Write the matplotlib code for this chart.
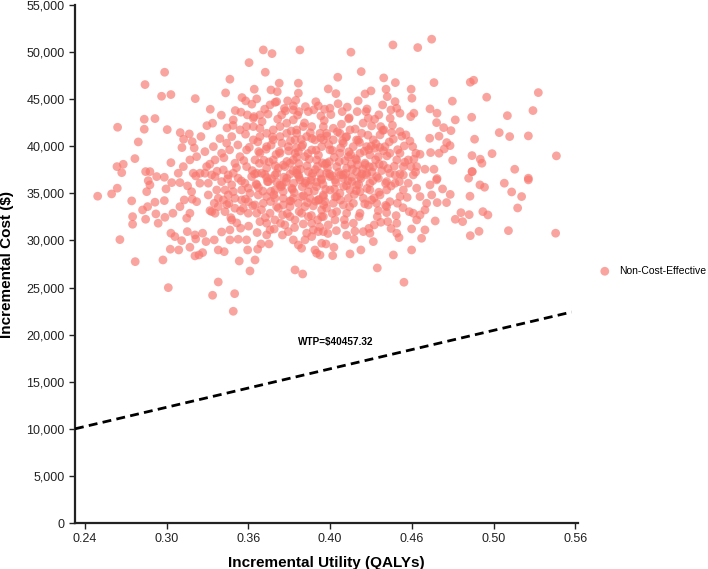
import numpy as np
import matplotlib
matplotlib.use("Agg")
from matplotlib import pyplot as plt
from matplotlib.ticker import FuncFormatter

plt.rcParams['font.family'] = ['Liberation Sans', 'DejaVu Sans']

# Sparse upper-left points
util_a = [0.2613, 0.2609, 0.265, 0.264, 0.2726, 0.2748, 0.2787, 0.2787, 0.2857, 0.2792,
          0.292, 0.29, 0.2961, 0.2937, 0.2961, 0.3022, 0.3044, 0.3033, 0.3081, 0.312,
          0.31, 0.3113, 0.3157, 0.3196, 0.3218, 0.329, 0.3233, 0.3318, 0.3346, 0.3327,
          0.3368, 0.3381, 0.3471, 0.3425, 0.3449, 0.3521, 0.3505, 0.3564, 0.3621, 0.3577,
          0.3614, 0.3668, 0.3655, 0.3651, 0.3608, 0.3542, 0.3499, 0.346, 0.3684, 0.3723,
          0.376, 0.3793, 0.3793, 0.3803]
cost_a = [42020, 37840, 38090, 37200, 38690, 40460, 41810, 42870, 42940, 46550,
          47860, 45310, 45490, 41770, 38260, 41450, 40750, 39860, 41310, 45060,
          40490, 39820, 41030, 42190, 43930, 43300, 42450, 45670, 47120, 41950,
          42800, 43790, 48880, 45170, 44820, 45030, 46060, 50230, 49840, 47860,
          45980, 46700, 45800, 44740, 44390, 43330, 42980, 43330, 43330, 44820,
          44290, 46700, 45640, 50230]

# Sparse upper-right points
util_b = [0.4136, 0.441, 0.4572, 0.4663, 0.4203, 0.405, 0.3988, 0.4038, 0.435, 0.4426,
          0.4365, 0.4228, 0.4267, 0.4373, 0.4529, 0.4534, 0.4678, 0.4915, 0.4937, 0.5359,
          0.5022, 0.4798, 0.4424, 0.4343, 0.4397, 0.4435, 0.4456, 0.4547, 0.4526, 0.4652,
          0.4698, 0.4695, 0.4741, 0.4789, 0.4817, 0.4924, 0.5157, 0.5324, 0.5104, 0.5172,
          0.5294, 0.4943, 0.465, 0.4711, 0.4761, 0.4783, 0.4745, 0.4656, 0.4711, 0.48,
          0.4926, 0.498, 0.4991, 0.5057, 0.4928, 0.5205, 0.5294, 0.5477]
cost_b = [49990, 50760, 50480, 51370, 47930, 47330, 46090, 45590, 47260, 46760,
          46060, 45560, 45880, 45270, 46060, 45100, 46760, 46800, 47010, 45700,
          45210, 44790, 44740, 44390, 43860, 44040, 43510, 43510, 43150, 43970,
          43510, 42510, 41980, 41660, 42800, 43080, 43250, 43790, 41450, 41030,
          41100, 40750, 40850, 41070, 40390, 40070, 39720, 39330, 39260, 38520,
          39010, 38630, 38200, 39220, 37310, 37560, 36610, 38980]

# Dense core, upper right part
util_c = [0.376, 0.3797, 0.3858, 0.3923, 0.394, 0.3999, 0.4079, 0.4121, 0.4177, 0.4234,
          0.4249, 0.4271, 0.433, 0.4352, 0.4402, 0.4456, 0.4495, 0.4484, 0.4539, 0.456,
          0.4587, 0.4547, 0.451, 0.4565, 0.4528, 0.4619, 0.4678, 0.4698, 0.4413, 0.4358,
          0.439, 0.4456, 0.4435, 0.4478, 0.439, 0.4456, 0.4326, 0.4282, 0.4293, 0.4238,
          0.4206, 0.4173, 0.413, 0.4108, 0.4064, 0.4021, 0.3977, 0.3934, 0.3956, 0.388,
          0.3825, 0.3782, 0.3847, 0.3901, 0.3956, 0.4021, 0.4086, 0.4151, 0.4195, 0.426,
          0.4315, 0.4347, 0.4282, 0.4228, 0.4173, 0.4119, 0.4064, 0.3999, 0.3945, 0.388,
          0.3814, 0.3771, 0.3836, 0.3912, 0.3977, 0.4043, 0.4108, 0.4173, 0.4238, 0.4304,
          0.3782, 0.3858, 0.3934, 0.3999, 0.4086, 0.3738]
cost_c = [43860, 43680, 43680, 44290, 43220, 44040, 43680, 42910, 43680, 43680,
          42980, 42160, 42090, 41740, 41450, 41560, 41210, 40040, 39960, 39260,
          39150, 38630, 38550, 37840, 37840, 37560, 37560, 36570, 40750, 39960,
          39260, 39260, 38550, 37840, 37130, 37060, 41210, 40680, 39790, 39960,
          41380, 40680, 41740, 41030, 41380, 41910, 41380, 41380, 42090, 42090,
          42090, 41380, 41030, 40680, 40680, 40680, 40330, 39960, 39260, 39080,
          38900, 38020, 37840, 38200, 38550, 38900, 39260, 39610, 39960, 39610,
          39960, 39260, 38900, 38550, 38200, 37840, 37670, 37310, 36960, 36780,
          37490, 37310, 37130, 36780, 36610, 38200]

# Lower left points
util_d1 = [0.2483, 0.2574, 0.2611, 0.2705, 0.2711, 0.2711, 0.2628, 0.2728, 0.2909, 0.2944,
           0.2776, 0.2796, 0.2809, 0.2857, 0.2863, 0.2878, 0.2918, 0.2922, 0.2929, 0.2803,
           0.2813, 0.2824, 0.2796, 0.2918, 0.2966, 0.2974, 0.2961, 0.2987, 0.2957, 0.3012,
           0.3031, 0.302, 0.302, 0.3048, 0.3064, 0.3085, 0.3068, 0.3085, 0.307, 0.3096,
           0.31, 0.3129, 0.3118, 0.3123, 0.3118, 0.3144, 0.3168, 0.3168, 0.319, 0.3123,
           0.315, 0.3183, 0.3205, 0.3227, 0.3244, 0.3249, 0.3244, 0.327, 0.3309, 0.327,
           0.3233, 0.3377, 0.3368, 0.3292, 0.3346, 0.3346, 0.34, 0.3407, 0.3455, 0.3462,
           0.3477, 0.351, 0.3527, 0.3549, 0.3586, 0.3601, 0.3608, 0.3416, 0.3358, 0.3314,
           0.327, 0.3216, 0.3303, 0.334]
cost_d1 = [34700, 34940, 35550, 34200, 32530, 31720, 30090, 27750, 27930, 24990,
           33240, 32250, 33590, 34060, 32820, 31830, 34230, 32460, 35470, 35180,
           36350, 35900, 37310, 36710, 36140, 32890, 30770, 30410, 29070, 28990,
           29980, 36140, 33590, 34300, 32360, 32890, 30940, 29280, 35790, 35180,
           34380, 34120, 30590, 30160, 28360, 28460, 30770, 28710, 29880, 36850,
           36080, 37140, 34830, 33060, 33950, 32890, 30060, 28990, 28810, 25590,
           24180, 24350, 22480, 30900, 31120, 30060, 30130, 27820, 30060, 28990,
           26760, 27930, 29070, 29630, 30590, 29630, 31120, 31300, 32180, 33060,
           33590, 33170, 34300, 33950]

util_d2 = [0.3379, 0.3433, 0.3466, 0.3521, 0.3542, 0.3586, 0.364, 0.3677, 0.3727, 0.376,
           0.3793, 0.3814, 0.3771, 0.3821, 0.3836, 0.388, 0.3901, 0.3912, 0.3945, 0.3956,
           0.3923, 0.389, 0.3847, 0.3705, 0.388, 0.3919, 0.3858, 0.3814, 0.3771, 0.3738,
           0.369, 0.3608, 0.3651, 0.3694, 0.3738, 0.3793, 0.3836, 0.389, 0.3945, 0.3945,
           0.3564, 0.351, 0.3466, 0.3423, 0.3379, 0.3335, 0.327, 0.326, 0.3314, 0.3368,
           0.3423, 0.3477, 0.3531, 0.3586, 0.364, 0.3694, 0.376, 0.3814, 0.3869, 0.3923,
           0.3956, 0.3205, 0.3249, 0.3292, 0.3335, 0.3358, 0.34, 0.3444, 0.3488, 0.3521,
           0.3553, 0.3597, 0.364, 0.3673, 0.3717, 0.3749, 0.3793, 0.3836, 0.388, 0.3912,
           0.3945, 0.364, 0.3858, 0.3694]
cost_d2 = [33420, 33420, 32890, 32890, 32000, 31830, 32180, 31830, 30940, 30060,
           29520, 29170, 26870, 26440, 30060, 30410, 28990, 28640, 29700, 30940,
           30940, 31120, 30770, 31650, 31830, 32180, 32530, 32890, 32180, 32530,
           32710, 32890, 33590, 33770, 33590, 33950, 33590, 33670, 33240, 32530,
           33950, 33770, 34120, 34300, 34480, 34830, 34480, 35360, 35360, 35180,
           35360, 35010, 34830, 34660, 34480, 34480, 34480, 34660, 34480, 34300,
           34830, 36080, 36780, 36250, 36960, 35900, 36610, 36080, 36780, 35900,
           37140, 36250, 36960, 35900, 36610, 35550, 36960, 36080, 36780, 35720,
           36430, 35360, 35180, 35180]

# Lower right points
util_e1 = [0.5294, 0.5137, 0.5185, 0.525, 0.5224, 0.4978, 0.5008, 0.4913, 0.4904, 0.4926,
           0.5472, 0.5164, 0.4972, 0.4915, 0.4997, 0.503, 0.4854, 0.4908, 0.4817, 0.4865,
           0.4784, 0.476, 0.4734, 0.4695, 0.4699, 0.4686, 0.4652, 0.4663, 0.463, 0.4619,
           0.4587, 0.4565, 0.4517, 0.4543, 0.4532, 0.4619, 0.4597, 0.4532, 0.4435, 0.4435,
           0.445, 0.4413, 0.4376, 0.4308, 0.4482, 0.4201, 0.413, 0.4017, 0.4025, 0.3973,
           0.3934, 0.4282, 0.4156, 0.4108, 0.4217]
cost_e1 = [36430, 36080, 35150, 34660, 33450, 35900, 35650, 34700, 36610, 37310,
           30770, 31040, 30970, 30510, 33060, 32710, 32950, 32740, 32250, 32000,
           34890, 34020, 35470, 36430, 34020, 32070, 35900, 34830, 33950, 33240,
           32710, 32180, 33060, 32890, 31220, 31120, 30230, 28990, 31830, 30770,
           30300, 28460, 32000, 27080, 25560, 28990, 28570, 28390, 29280, 29630,
           28460, 29880, 30130, 30560, 30940]

util_e2 = [0.426, 0.4288, 0.4308, 0.4315, 0.4369, 0.4304, 0.4249, 0.4195, 0.4152, 0.4097,
           0.4032, 0.3988, 0.3956, 0.3977, 0.4043, 0.4108, 0.4456, 0.4439, 0.4478, 0.439,
           0.4369, 0.451, 0.4565, 0.4587, 0.4543, 0.4478, 0.4424, 0.4369, 0.4326, 0.4271,
           0.4217, 0.4152, 0.4086, 0.4021, 0.3967, 0.3977, 0.4032, 0.4086, 0.4141, 0.4195,
           0.426, 0.4315, 0.4369, 0.3999, 0.4064, 0.413, 0.4195, 0.426, 0.3956, 0.4043,
           0.4119, 0.4173, 0.4238, 0.4424]
cost_e2 = [30770, 31650, 32530, 33170, 32950, 33950, 33770, 32890, 31830, 31650,
           32180, 31650, 32530, 33420, 33060, 32890, 34660, 33950, 35360, 34120,
           33590, 36080, 35550, 34660, 36960, 36960, 36080, 35360, 34830, 34300,
           34480, 33950, 33770, 33950, 34120, 37140, 36430, 36960, 36250, 36780,
           36080, 36610, 36250, 35360, 35010, 35360, 35180, 35360, 34660, 34660,
           34480, 35900, 37140, 36960]

# Dense core, left part
util_f = [0.3085, 0.3129, 0.3183, 0.3238, 0.3194, 0.3249, 0.3292, 0.3325, 0.3358, 0.3412,
          0.3455, 0.3499, 0.3542, 0.3303, 0.3368, 0.3379, 0.3412, 0.3455, 0.3499, 0.3542,
          0.3586, 0.3629, 0.3673, 0.3717, 0.376, 0.3455, 0.351, 0.3542, 0.3586, 0.3629,
          0.3673, 0.3717, 0.3782, 0.3521, 0.3586, 0.3629, 0.3673, 0.3727, 0.3771, 0.3651,
          0.3705, 0.376, 0.3793, 0.3782, 0.3042, 0.3151, 0.3227, 0.3107, 0.3009, 0.2868,
          0.2824]
cost_f = [38550, 38900, 39430, 39960, 37840, 38550, 39260, 40330, 41030, 41740,
          42090, 42090, 41910, 37490, 37140, 38200, 38900, 39610, 40680, 41030,
          41380, 41740, 42090, 42450, 42800, 37840, 38550, 39260, 39960, 40680,
          41030, 41380, 41740, 37140, 37670, 38550, 39260, 39960, 40680, 37140,
          37840, 38550, 39430, 37140, 37840, 37140, 36960, 37140, 37140, 36780,
          37310]

# Overlapping points inside the dense core
util_g = [0.3215, 0.3262, 0.3281, 0.3307, 0.3331, 0.3344, 0.3366, 0.3389, 0.3398, 0.3421,
          0.3437, 0.3448, 0.3466, 0.3473, 0.3492, 0.3503, 0.3517, 0.3528, 0.3539, 0.3556,
          0.3561, 0.3574, 0.3583, 0.3595, 0.3602, 0.3618, 0.3624, 0.3633, 0.3647, 0.3658,
          0.3662, 0.3679, 0.3686, 0.3694, 0.3708, 0.3713, 0.3729, 0.3737, 0.3746, 0.3758,
          0.3766, 0.3779, 0.3788, 0.3795, 0.3804, 0.3812, 0.3827, 0.3833, 0.3849, 0.3856]
cost_g = [38100, 37350, 40820, 38780, 36540, 39620, 42210, 37730, 40140, 36320,
          38480, 41280, 35560, 39890, 37420, 43150, 36010, 40470, 38190, 42620,
          35240, 37020, 39690, 43420, 38340, 36560, 40980, 34860, 39120, 42880,
          37680, 35690, 40330, 38010, 43760, 36240, 39510, 34190, 41620, 37410,
          35080, 39840, 43310, 38170, 36430, 40720, 34760, 42480, 37920, 39230]

util_h = [0.3863, 0.3871, 0.3886, 0.3893, 0.3908, 0.3914, 0.3927, 0.3938, 0.3949, 0.3962,
          0.3971, 0.3983, 0.3991, 0.4005, 0.4012, 0.4027, 0.4033, 0.4048, 0.4057, 0.4069,
          0.4074, 0.4088, 0.4097, 0.4103, 0.4117, 0.4125, 0.4134, 0.4146, 0.4158, 0.4164,
          0.4179, 0.4187, 0.4192, 0.4208, 0.4216, 0.4223, 0.4241, 0.4247, 0.4256, 0.4268,
          0.4279, 0.4291, 0.4297, 0.4318, 0.4324, 0.4337, 0.4343, 0.4362, 0.4371, 0.4386,
          0.4398, 0.4407, 0.4419, 0.4441, 0.4452, 0.4468, 0.4487, 0.4503, 0.4521, 0.4558]
cost_h = [35910, 41430, 37140, 43870, 39580, 36190, 34350, 40880, 38240, 42730,
          35430, 37690, 40190, 43360, 36870, 38830, 34620, 41540, 37240, 39830,
          42340, 35740, 38460, 40960, 36330, 43020, 39120, 37560, 34880, 41830,
          38040, 35960, 40410, 37080, 42460, 39470, 35520, 41180, 37830, 40020,
          36350, 42870, 38560, 35120, 39880, 37420, 41690, 36060, 38980, 40460,
          35780, 42230, 37890, 39640, 36240, 41070, 38310, 34570, 40560, 37260]

util_i = [0.3326, 0.3352, 0.3391, 0.3415, 0.3447, 0.3468, 0.3495, 0.3524, 0.3552, 0.3577,
          0.3611, 0.3635, 0.3662, 0.3689, 0.3721, 0.3744, 0.3768, 0.3798, 0.3825, 0.3852,
          0.3878, 0.3906, 0.3932, 0.3958, 0.3986, 0.4014, 0.4041, 0.4068, 0.4093, 0.4127,
          0.4162, 0.4189, 0.4226, 0.4253, 0.4287, 0.4331, 0.4362, 0.4398, 0.4431, 0.4476,
          0.3418, 0.3489, 0.3573, 0.3641, 0.3702, 0.3776, 0.3839, 0.3907, 0.3964, 0.4052,
          0.4112, 0.4183, 0.4241, 0.4318, 0.4392]
cost_i = [33800, 32420, 31860, 33140, 34390, 31520, 33680, 30840, 33260, 32430,
          34130, 31220, 33420, 30580, 32860, 34190, 31370, 33070, 31750, 34020,
          32650, 34170, 31430, 33780, 30740, 32870, 31040, 34280, 32210, 33570,
          30990, 32540, 33890, 31280, 34520, 31930, 33720, 31270, 32640, 33480,
          43620, 44470, 43940, 44660, 44020, 44880, 44210, 44730, 43930, 44520,
          44160, 44830, 43960, 43340, 42970]

util_j = [0.3507, 0.3534, 0.3568, 0.3591, 0.3615, 0.3642, 0.3669, 0.3698, 0.3718, 0.3741,
          0.3762, 0.3783, 0.3807, 0.3821, 0.3842, 0.3864, 0.3881, 0.3903, 0.3924, 0.3942,
          0.3967, 0.3979, 0.3996, 0.4016, 0.4038, 0.4059, 0.4081, 0.4102, 0.4122, 0.4143,
          0.4167, 0.4184, 0.4201, 0.4229, 0.4252, 0.4273, 0.4299, 0.4321, 0.4348, 0.4377,
          0.3532, 0.3613, 0.3687, 0.3754, 0.3818, 0.3897, 0.3953, 0.4028, 0.4107, 0.4171,
          0.3586, 0.3652, 0.3738, 0.3797, 0.3875, 0.3918, 0.3995, 0.4068, 0.4139, 0.4213]
cost_j = [37050, 39440, 38510, 36250, 40130, 37930, 39460, 36710, 38390, 40590,
          36080, 38840, 37560, 40160, 36280, 38610, 40830, 37520, 39060, 36540,
          38080, 41080, 37070, 39560, 36150, 38370, 40560, 37110, 39420, 36730,
          38680, 40630, 36580, 38040, 39640, 37280, 40260, 38110, 39530, 37630,
          35630, 35210, 35870, 35410, 35690, 35260, 35980, 35470, 35820, 35290,
          36680, 36190, 37050, 36720, 36400, 37870, 38360, 36980, 38090, 37570]

wtp_value = 40457.32
wtp_x = [0.2335, 0.5576]
wtp_y = [10000, 22400]

x_ticks = ['0.24', '0.30', '0.36', '0.40', '0.46', '0.50', '0.56']

utility = np.concatenate([util_a, util_b, util_c, util_d1, util_d2, util_e1, util_e2,
                          util_f, util_g, util_h, util_i, util_j])
cost = np.concatenate([cost_a, cost_b, cost_c, cost_d1, cost_d2, cost_e1, cost_e2,
                       cost_f, cost_g, cost_h, cost_i, cost_j])

fig = plt.figure(figsize=(7.08, 5.69), dpi=100)
ax = fig.add_axes([75 / 708, 1 - 523 / 569, 503 / 708, 518 / 569])

ax.scatter(utility, cost, s=40, color='#F8766D', alpha=0.66, edgecolors='none',
           label='Non-Cost-Effective', zorder=2)
ax.plot(wtp_x, wtp_y, color='black', lw=2, linestyle=(0, (3.2, 1.9)), zorder=3)
ax.text(0.4038, 19200, 'WTP=\\$' + str(wtp_value), fontsize=7.2, fontweight='bold',
        ha='center', va='center')

ax.set_xlim(0.2335, 0.5618)
ax.set_ylim(0, 55000)
ax.set_xticks(np.linspace(0.24, 0.56, len(x_ticks)))
ax.set_xticklabels(x_ticks)
ax.set_yticks(np.arange(0, 55001, 5000))
ax.yaxis.set_major_formatter(FuncFormatter(lambda v, p: f'{int(v):,}'))

for s in ['top', 'right']:
    ax.spines[s].set_visible(False)
for s in ['left', 'bottom']:
    ax.spines[s].set_linewidth(1.6)
    ax.spines[s].set_color('#222222')
ax.tick_params(axis='both', labelsize=9, colors='#222222', length=4, width=1)

ax.set_xlabel('Incremental Utility (QALYs)', fontsize=11, fontweight='bold')
ax.set_ylabel('Incremental Cost ($)', fontsize=11, fontweight='bold')
ax.xaxis.set_label_coords(0.499, -0.064)
ax.yaxis.set_label_coords(-0.121, 0.5)

fig.legend(loc='center left', bbox_to_anchor=(585 / 708, 1 - 271 / 569), frameon=False,
           fontsize=7.5, handletextpad=0.4, markerscale=1.0)

fig.savefig('out.png', dpi=100)
